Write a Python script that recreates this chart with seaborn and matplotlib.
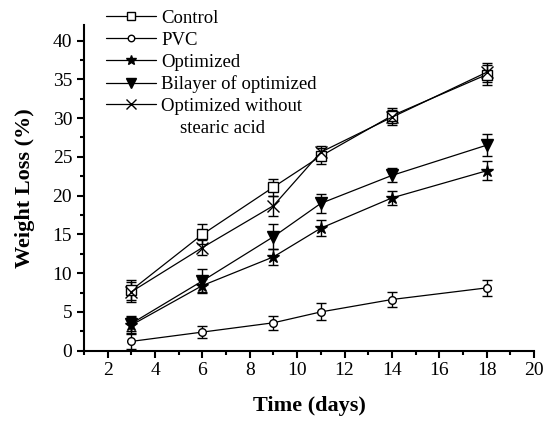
import matplotlib
matplotlib.use("Agg")
import matplotlib.pyplot as plt
import seaborn as sns
import pandas as pd
from matplotlib.ticker import MultipleLocator
from matplotlib.lines import Line2D

days = [3, 6, 9, 11, 14, 18]
control = [7.8, 15.0, 21.1, 25.1, 30.3, 35.6]
control_err = [1.3, 1.3, 1.1, 1.0, 1.0, 1.3]
pvc = [1.2, 2.4, 3.6, 5.0, 6.6, 8.1]
pvc_err = [1.0, 0.8, 0.9, 1.1, 1.0, 1.0]
optimized = [3.3, 8.4, 12.1, 15.8, 19.7, 23.2]
optimized_err = [1.0, 0.8, 1.0, 1.0, 0.9, 1.2]
bilayer = [3.5, 9.0, 14.7, 19.0, 22.6, 26.5]
bilayer_err = [1.0, 1.5, 1.6, 1.2, 0.9, 1.4]
no_stearic = [7.6, 13.3, 18.7, 25.6, 30.1, 35.9]
no_stearic_err = [1.3, 1.0, 1.3, 0.8, 1.0, 1.2]

labels = ["Control", "PVC", "Optimized", "Bilayer of optimized",
          "Optimized without"]
label_cont = "    stearic acid"

sns.set_style("ticks")
plt.rcParams['font.family'] = ['Liberation Serif', 'DejaVu Serif']
plt.rcParams['text.color'] = 'black'
plt.rcParams['axes.labelcolor'] = 'black'
plt.rcParams['xtick.color'] = 'black'
plt.rcParams['ytick.color'] = 'black'

fig = plt.figure(figsize=(5.43, 4.21), dpi=100)
ax = fig.add_axes([0.1547, 0.167, 0.9834 - 0.1547, 0.9406 - 0.167])

series = [
    (control, control_err, 's', 'white', 6.5),
    (pvc, pvc_err, 'o', 'white', 5.5),
    (optimized, optimized_err, '*', 'black', 9),
    (bilayer, bilayer_err, 'v', 'black', 8.5),
    (no_stearic, no_stearic_err, 'x', 'black', 8),
]

for (vals, errs, mk, fc, ms), lab in zip(series, labels):
    df = pd.DataFrame({"day": days, "loss": vals})
    ax.errorbar(days, vals, yerr=errs, fmt='none', ecolor='black',
                elinewidth=1.0, capsize=3.5, capthick=1.0, zorder=2)
    sns.lineplot(data=df, x="day", y="loss", ax=ax, color='black',
                 linewidth=0.9, marker=mk, markersize=ms,
                 markerfacecolor=fc, markeredgecolor='black',
                 markeredgewidth=1.0, label=lab, zorder=3)

ax.set_xlim(1, 20)
ax.set_ylim(0, 42)
ax.set_xticks(range(2, 21, 2))
ax.set_yticks(range(0, 41, 5))
ax.xaxis.set_minor_locator(MultipleLocator(1))
ax.yaxis.set_minor_locator(MultipleLocator(2.5))
ax.tick_params(axis='both', which='major', direction='out', length=5,
               width=1.5, labelsize=14, colors='black')
ax.tick_params(axis='both', which='minor', direction='out', length=3,
               width=1.5, colors='black')
for sp in ['top', 'right']:
    ax.spines[sp].set_visible(False)
for sp in ['left', 'bottom']:
    ax.spines[sp].set_linewidth(1.5)
    ax.spines[sp].set_color('black')

ax.set_xlabel("Time (days)", fontsize=16, fontweight='bold', labelpad=12)
ax.set_ylabel("Weight Loss (%)", fontsize=16, fontweight='bold', labelpad=13)

handles, labs = ax.get_legend_handles_labels()
handles.append(Line2D([], [], linestyle='none', marker=None))
labs.append(label_cont)

leg = ax.legend(handles, labs, loc='upper left',
                bbox_to_anchor=(104 / 543, 1 - 8 / 421),
                bbox_transform=fig.transFigure, frameon=True, fontsize=13.5,
                handlelength=2.67, handletextpad=0.27, labelspacing=0.25,
                borderpad=0.1, borderaxespad=0, markerscale=0.85)
leg.get_frame().set_edgecolor('none')
leg.get_frame().set_facecolor('white')
leg.get_frame().set_alpha(1)

fig.savefig("out.png", dpi=100)
